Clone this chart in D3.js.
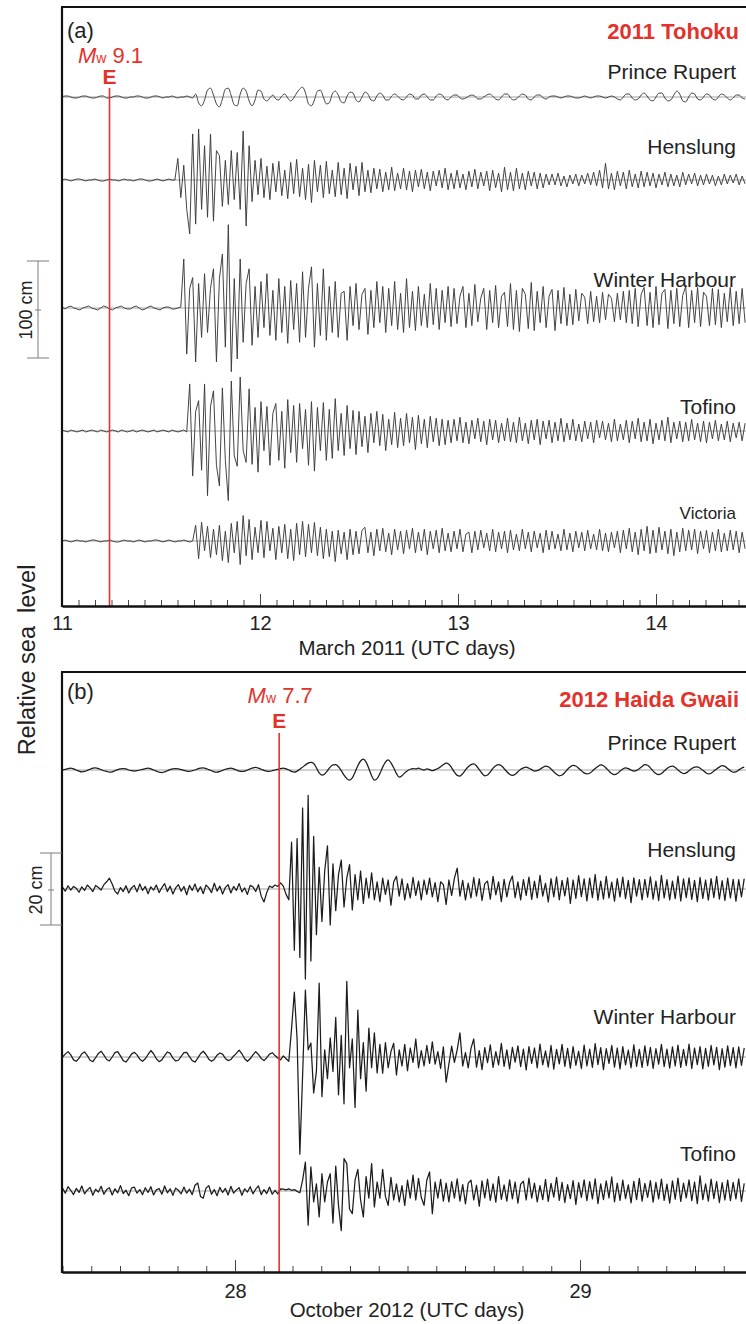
<!DOCTYPE html>
<html><head><meta charset="utf-8">
<script src="https://cdn.jsdelivr.net/npm/d3@7"></script>
<style>
body{margin:0;background:#fff}
svg{display:block}
text{font-family:"Liberation Sans",Arial,Helvetica,sans-serif}
</style>
</head><body>
<svg id="c" width="746" height="1324"></svg>
<script>
// ---------------- DATA ----------------
const stationsA = ["Prince Rupert", "Henslung", "Winter Harbour", "Tofino", "Victoria"];
const stationsB = ["Prince Rupert", "Henslung", "Winter Harbour", "Tofino"];
const startA = 11.0, stepA = 0.015;   // March 2011, UTC days
const startB = 27.5, stepB = 0.008;   // October 2012, UTC days
const eventA = 11.24, eventB = 28.128;
const ticksA = [11, 12, 13, 14];
const ticksB = [28, 29];
const magA = "9.1", magB = "7.7";
const scaleA = 100, scaleB = 20; // cm scale bars

// relative sea level (cm), panel a
const prA = [0,1,1,0,-1,-1,0,1,1,0,-1,-1,0,1,1,-1,-1,0,1,1,0,-1,-1,0,0,1,1,0,-1,-1,0,1,1,0,-1,0,0,1,0,-1,0,0,1,0,-1,
3,-6,-9,-3,7,9,2,-7,-10,-2,8,9,1,-8,-9,3,9,6,-4,-9,-3,7,6,-2,-4,-1,2,-2,-3,1,3,-1,-4,-1,4,8,10,4,-7,-9,-3,6,7,0,-7,-6,3,6,2,-5,-6,1,5,4,-3,-5,0,5,3,-3,-4,1,4,2,-3,-3,1,3,1,-2,-3,0,3,2,-2,-2,
2,3,0,-3,-3,1,3,2,-2,-3,0,2,2,-1,-2,-1,1,2,1,-2,-2,0,2,3,1,-2,
-3,0,3,3,-1,-3,-2,1,3,2,-2,-3,0,2,2,-1,-2,0,1,1,
0,-1,0,1,1,0,-1,-1,0,1,0,-1,0,1,1,0,-1,0,1,0,
-2,-3,0,3,3,-1,-3,-2,2,4,1,-3,-4,0,4,4,-1,-4,-3,2,6,3,-4,-5,0,4,3,-2,-3,
0,3,2,-2,-3,0,3,2,-1,-3,-1,2,2,-1,-2];
const heA = [0,1,0,-1,0,1,1,0,-1,0,0,1,0,-1,-1,0,1,0,0,-1,0,1,0,0,-1,0,1,1,0,-1,-1,0,1,0,-1,0,1,0,0,
22,-18,15,-30,-55,47,-45,52,-30,35,-38,47,-42,30,25,-27,20,-25,30,-20,28,-30,50,-47,35,
-22,20,-15,22,-18,14,-20,17,-12,19,-16,10,-19,18,-14,21,-17,12,-20,16,-23,20,-12,15,-18,19,-14,10,-17,18,-15,12,-19,17,-10,14,-16,18,-12,10,
-13,12,-9,11,-12,8,-10,13,-11,7,-9,12,-10,9,-12,10,-7,11,-9,8,-11,9,-6,10,-8,12,-10,7,
-9,10,-8,6,-10,9,-7,11,-9,8,-6,9,-11,10,-8,7,
-12,13,-10,8,-11,12,-9,7,-10,9,-6,8,-9,7,-8,6,-5,
6,-5,7,-6,4,-7,5,-4,6,-6,5,-4,7,-5,8,-6,
10,-8,17,-9,7,-10,9,-6,8,-9,10,-7,6,-8,9,-7,8,-6,
7,-8,6,-5,8,-7,6,-6,5,-7,8,-5,6,-4,7,-6,5,
-5,6,-4,5,-6,4,-5,6,-4,5,-3,6,-5,4,-4];
const whA = [1,-1,1,2,0,-1,-2,0,1,2,0,-1,-2,0,2,1,-1,-2,0,1,2,0,-1,-1,1,2,0,-2,-1,1,2,0,-1,-2,0,1,1,-1,-1,0,1,
50,-47,20,31,-55,25,-30,35,-25,20,40,-55,30,55,-40,85,-65,30,-52,50,-35,25,40,
-38,22,-30,27,-20,35,-28,18,-33,30,-25,22,-36,28,-22,25,-35,37,-30,20,42,-40,25,-28,40,-33,22,
-25,27,-30,15,17,-33,22,-18,25,-22,14,20,-27,18,-20,27,-15,22,-25,20,-18,27,-22,15,-25,30,-20,17,-23,22,-18,14,-20,25,-17,20,-22,18,-15,22,-19,
20,-16,12,22,-20,15,-18,24,-14,10,20,-22,18,-15,23,-20,12,16,-19,
25,-22,18,-24,20,14,-21,26,-23,17,-15,22,-20,12,19,-23,18,-16,21,-18,
14,-17,19,-13,15,11,-16,17,-14,12,-15,16,-12,14,10,-14,15,-12,17,-15,
18,-16,20,-19,14,21,-18,16,-20,22,-17,15,19,-21,18,-16,20,-19,13,22,
-20,18,-15,21,-19,16,12,-18,20,-17,19,-20,15,-14,21,-18,17,-16,20,-15];
const toA = [1,0,-1,1,0,-1,0,1,-1,0,1,0,-1,1,0,-1,0,1,0,-1,1,0,-1,0,1,-1,0,1,0,-1,0,1,-1,0,1,0,-1,1,0,-1,0,1,-1,
48,-46,20,31,-40,48,-66,25,41,-35,-56,44,-30,-71,51,-25,-36,55,-20,-32,43,-34,24,-42,
30,-20,25,-35,18,28,-30,20,-38,32,-22,26,-32,28,-18,22,-35,30,-41,24,-20,29,-30,22,-28,33,-20,18,-25,26,-18,21,-24,
20,-16,15,-22,18,-12,20,-15,17,-20,12,-14,19,-17,13,-15,18,-12,14,-19,16,-13,12,-17,15,-11,13,-15,12,-14,11,-12,
12,-10,14,-12,9,-13,11,-8,13,-11,10,-14,12,-9,11,-12,8,-10,13,
-11,9,-12,14,-10,8,-13,11,-9,12,-14,10,-8,11,-12,9,-10,13,-11,8,
-9,12,-10,7,-11,10,-8,9,-12,11,-7,10,-9,8,-11,12,-10,7,-9,11,
-12,10,-8,13,-11,9,-10,12,-13,8,-9,11,-10,14,-12,9,-8,10,-11,9,
-10,12,-9,8,-11,10,-12,9,-8,11,-10,7,-9,10,-11,8,-7,9,-10,8];
const viA = [0,1,0,-1,0,1,0,0,-1,0,1,1,0,-1,0,0,1,0,-1,-1,0,1,0,0,-1,0,1,0,-1,0,0,1,1,0,-1,0,1,0,-1,0,0,1,0,-1,0,
16,-18,19,-10,15,-17,12,-14,16,-20,10,-22,18,-12,20,-24,26,-15,22,-19,14,-12,21,-17,20,-10,13,-19,15,-12,17,-18,12,-20,
18,-14,20,-16,17,-12,19,-15,14,-18,12,-16,10,-21,11,-13,9,-19,
12,-14,10,-13,11,14,-12,9,-15,12,-10,13,-11,8,-14,12,-9,10,-13,11,-8,13,-12,9,-10,12,-14,10,-8,11,-12,13,-10,8,-11,
10,-8,12,-11,7,9,-12,10,-9,11,-7,8,-10,12,-11,9,-8,10,-12,
11,-9,7,-10,12,-8,9,-11,10,-7,8,-12,11,-9,10,-8,7,-10,12,-9,
8,-11,10,-7,9,-10,11,-8,7,-9,12,-10,8,-11,9,-7,10,-12,11,-8,
13,-11,9,-14,12,-10,15,-13,11,-12,14,-9,10,-13,12,-15,9,-11,13,-10,
11,-9,12,-13,10,-8,11,-12,9,-10,12,-11,8,-10,11,-9,10,-12,9,-8];

// relative sea level (cm), panel b
const prB = [0,0.2,0.4,0.5,0.3,0,-0.3,-0.5,-0.4,-0.1,0.2,0.5,0.6,0.4,0.1,-0.2,-0.4,-0.6,-0.5,-0.2,0.1,0.3,0.4,0.3,0,-0.2,-0.3,-0.2,0,0.2,0.4,0.5,0.3,0,-0.3,-0.6,-0.7,-0.5,-0.2,0.1,0.3,0.4,0.3,0.1,-0.1,-0.3,-0.4,-0.2,0,0.3,0.5,0.6,0.4,0.1,-0.2,-0.5,-0.6,-0.4,-0.1,0.2,0.4,0.5,0.3,0,-0.3,-0.4,-0.3,0,0.3,0.6,0.7,0.5,0.2,-0.1,-0.3,-0.4,-0.2,0,0.2,0.4,0.5,
0.3,0,-0.4,-0.6,-0.3,0.2,0.8,1.4,1.9,2.1,1.8,0.6,-0.8,-1.4,-1.1,-0.2,0.8,1.4,1.5,0.9,-0.2,-1.4,-2.4,-2.8,-2.2,-0.6,1.2,2.5,3.0,2.2,0.4,-1.6,-2.8,-2.4,-1.0,0.8,2.2,2.8,2.0,0.6,-1.0,-2.0,-1.6,-0.8,-0.2,
0.2,0.4,0.3,0.5,0.2,0,0.3,0.1,-0.2,0.1,0.4,0.9,1.5,1.9,1.6,0.6,-0.6,-1.5,-1.7,-1.0,0,0.9,1.5,1.7,1.1,0.1,-0.9,-1.6,-1.4,-0.5,0.5,1.2,1.5,1.2,0.4,
-0.5,-1.2,-1.5,-1.2,-0.5,0.2,0.6,0.8,0.5,0.1,-0.3,-0.2,0.2,0.7,1.1,0.9,0.3,-0.5,-1.2,-1.6,-1.4,-0.7,0.2,0.9,1.3,1.1,0.5,-0.2,-0.8,-1.1,-0.9,-0.3,0.4,1.0,1.4,1.2,0.5,-0.3,-1.0,-1.3,-1.0,-0.3,0.3,0.6,0.4,0,-0.3,-0.1,0.4,1.0,1.5,1.3,0.6,-0.3,-1.0,-1.3,-1.0,-0.3,0.4,0.9,1.1,0.7,0,-0.6,-1.0,-0.8,-0.2,0.4,0.8,0.9,0.5,-0.1,-0.7,-1.1,-0.9,-0.3,0.3,0.8,1.2,1.0,0.4,-0.2,-0.6,-0.5,0,0.5,0.8];
const heB = [0.5,-0.6,0.9,-0.3,0.7,0.2,-0.9,0.6,-0.4,1.1,0.3,-0.7,1.0,0.4,-0.3,1.2,2.0,3.0,1.4,-0.6,-1.4,0.4,-0.7,0.9,-1.1,0.3,1.0,-0.8,1.4,-0.4,0.7,-1.3,0.6,-0.3,1.1,-1.0,0.4,1.5,-0.7,0.8,-1.4,0.3,1.2,-0.6,0.7,-1.6,1.0,-0.4,1.4,-0.8,0.6,-1.3,1.1,0.3,-1.0,1.6,-0.6,0.8,-1.4,0.4,1.2,-1.1,0.7,-0.4,1.5,-0.8,0.3,-1.5,1.0,0.6,-0.7,1.2,-2.0,-3.6,-1.0,0.8,0.4,1.1,0.7,
1.7,0.8,-1.5,-3.0,13,-17,14,-19,22.5,-25,26,-20,14.6,-12.7,6,-9,5,12,-10,7,-6,4,8,-5,3,6.8,-5.8,4,-3,5,
-4,3,-2.5,4.5,-3,2,-3.5,3,-1.5,2.5,-4.5,2,3.5,-2,2.8,-3,1.5,-2.5,3.2,-1.8,2.2,-3,
2.5,-1.5,3,-2.2,1.8,-3.5,2,1.2,-4.3,2.5,-1.8,3,5.8,-2,2.4,-3,1.6,-2.5,3.2,-2,
2.8,-3.2,1.5,2.2,-2.8,3.5,-1.6,2,-3.5,2.7,-2.2,1.8,3.6,-2.4,2,-3,2.6,-1.8,3.3,-2.9,
2.2,-2.5,3.8,-2,1.6,-3.6,2.9,-2.2,3.4,-3,2.4,-1.9,3.1,-4,2.5,-2.6,3.7,-2.1,2.8,-3.3,
3,-2.4,4,-3.1,2.2,-2.8,3.5,-2.5,1.9,-3.4,2.9,-2.2,3.3,-2.7,2.4,-3.8,3.1,-2,2.6,-3,
2.7,-2.3,3.4,-2.8,2.2,-3.2,3.8,-2.5,2.6,-3,2.2,-2.7,3.6,-3.3,2.8,-2.4,3.1,-2.9,2.4,-3.5,
3.2,-2.6,2.5,-3.1,2.9,-2.4,3.5,-2.8,2.3,-3.2,3,-2.5,2.7,-3.4,2.6,-2.2,2.9];
const whB = [0,0.8,1.5,0.6,-0.8,-1.2,-0.3,0.9,1.4,0.4,-0.9,-1.3,-0.2,1.0,1.6,0.5,-0.7,-1.1,0,1.2,1.5,0.3,-1.0,-1.4,-0.4,0.8,1.3,0.6,-0.6,-1.2,-0.5,0.7,1.8,0.9,-0.5,-1.3,-0.8,0.4,1.4,1.0,-0.3,-1.1,-0.9,0.2,1.2,1.3,0.1,-1.0,-1.4,-0.3,0.9,1.6,0.7,-0.6,-1.2,-0.6,0.5,1.1,0.8,-0.4,-1.0,-0.7,0.3,1.0,1.9,0.9,-0.5,-1.2,-0.5,0.6,1.5,0.7,-0.4,-1.0,-0.2,0.8,1.2,0.4,-0.3,-0.8,0.3,
-0.5,-1.2,8,18,5,-27,-5,18.6,2,3.9,-10,-4,20.5,-11,2,-6,5.3,-4,11,-10.5,6,-13,21,-3,5,-14,13,-6,4,-9.5,8,-3,6.7,-4.4,
3.5,-4.5,4,-3,1.5,3.8,-5,2,-2.5,3.5,-3.8,2.5,-1.5,5,-3,1.8,
-2.5,3.2,-1.8,4.2,-2,1.5,-3.2,2.8,-7,-2,3,-1.5,2,6.7,-2.5,1.2,-3,2.4,5,-2.8,
1.8,-3.5,2.6,-1.6,3.4,-2.9,1.5,-2.2,3.8,-2.6,2,-3.3,2.7,-1.4,3.1,-2.7,2.2,-3.6,2.9,-1.8,
2.5,-3,3.6,-2.2,1.7,-2.8,3.2,-3.4,2.1,-1.9,3.5,-2.6,2.4,-3.1,2.9,-2.3,1.6,-3.2,3.3,-2.5,
2.2,-2.9,3.7,-2.1,2.6,-3.5,2.3,-1.8,3.2,-2.8,2.5,-3.3,2.9,-2.2,1.9,-3,3.4,-2.6,2.1,-2.9,
3.1,-2.4,2.7,-3.2,2.3,-2,3.5,-2.7,2.2,-3.1,2.8,-2.5,3.3,-2.9,2.1,-2.4,3.6,-3.2,2.5,-2.1,
2.9,-3.3,2.4,-2.6,3.2,-2.2,2.7,-3.5,2.3,-2.8,3.1,-2.4,2.6,-3,2.8,-2.3,2.5];
const toB = [0.8,-0.6,1.2,0.2,-1.0,0.7,-0.4,1.4,-0.8,0.3,1.0,-1.2,0.5,-0.3,1.3,-0.9,0.4,0.9,-1.1,0.6,-0.5,1.5,-0.7,0.2,-1.3,0.8,1.1,-0.6,0.4,-1.0,0.9,-0.4,1.2,-1.1,0.3,0.7,-0.9,1.4,-0.5,0.6,-1.2,0.8,0.2,-0.8,1.1,-0.6,0.5,-1.0,1.6,2.2,-1.5,-2.0,0.8,1.5,-0.9,0.4,-1.3,1.0,-0.4,0.7,-1.1,1.3,-0.6,0.3,0.9,-1.2,0.6,-0.3,1.2,-0.8,0.5,1.4,-1.0,0.4,-0.7,1.1,-0.9,0.2,-0.8,0.6,0.5,0.3,0.6,0.2,0.4,-0.1,-0.5,
3,8,-9.5,6.7,-3,2,-7.2,4.8,-3,2.5,4.8,-8.9,6.9,-4,-11,9,7.6,-5,-6.3,3,6,-2.5,-7.2,4,-2,7.6,-4.4,2.5,-2,6,-1.5,-4,3.8,-2.5,2,-3,1.5,-4,3,-2,4.4,-2.5,3.5,-1.8,-4,3,5.3,-6.3,2.5,-2,3.2,-2.8,2.2,-3,
2.6,-2,3.4,-2.8,1.8,-3.6,2.2,3,-2.5,1.6,-4.2,2.8,-1.9,3.3,-2.6,2,-3.1,4,-2.3,1.7,
-2.8,3.1,-2.2,2.5,-3.4,1.9,2.7,-2.5,3.6,-2,2.2,-3,1.5,-2.4,3.2,-2.9,2.1,-1.7,3.8,-2.6,
2.4,-3.2,1.8,-2.1,2.9,-3.7,2.3,-1.8,3.1,-2.7,2.6,-2.2,3.4,-3.5,2,-2.4,2.8,-1.9,3.9,-3,
2.2,-2.6,3,-2.1,1.7,-3.3,2.7,-2.4,3.5,-2.8,2.1,-1.8,2.9,-3.1,2.4,-2.2,3.3,-2.6,1.9,-3.4,
2.8,-2.3,3.6,-2.9,2.2,-1.9,3.1,-2.7,2.5,-3.5,4.2,-2.4,2,-2.8,3.3,-2.1,2.6,-3.2,2.3,-2.5,
3,-2.7,2.4,-2.2,3.4,-2.9,2.1];

const seriesA = [prA, heA, whA, toA, viA];
const seriesB = [prB, heB, whB, toB];

// ---------------- LAYOUT ----------------
const W = 746;
const RED = "#e4322b";
const svg = d3.select("#c");

const xA = d3.scaleLinear().domain([11, 14]).range([62, 656]);
const xB = d3.scaleLinear().domain([28, 29]).range([235, 580]);
const ampA = d3.scaleLinear().domain([-50, 50]).range([49, -49]);
const ampB = d3.scaleLinear().domain([-10, 10]).range([36, -36]);

const panels = [
  { id: "a", x: xA, amp: ampA, t0: startA, dt: stepA, series: seriesA, names: stationsA,
    top: 7, axisY: 606, base: [97, 180, 308, 431, 541],
    labelY: [79, 154, 287, 414, 519], labelSize: [21, 21, 21, 21, 17],
    event: eventA, eTop: 88, mag: magA, magY: 63, eY: 84, letter: "(a)", letterY: 38,
    title: "2011 Tohoku", titleY: 39, ticks: ticksA, tickLabelY: 630,
    xTitle: "March 2011 (UTC days)", xTitleY: 655, xTitleX: 407,
    color: "#3a3a3a", sw: 0.95,
    bar: { x: 38, y0: 261, y1: 358, yc: 310, label: scaleA + " cm", tx: 32 } },
  { id: "b", x: xB, amp: ampB, t0: startB, dt: stepB, series: seriesB, names: stationsB,
    top: 672, axisY: 1272, base: [770, 889, 1057, 1191],
    labelY: [750, 857, 1024, 1161], labelSize: [21, 21, 21, 21],
    event: eventB, eTop: 733, mag: magB, magY: 703, eY: 728, letter: "(b)", letterY: 699,
    title: "2012 Haida Gwaii", titleY: 707, ticks: ticksB, tickLabelY: 1298,
    xTitle: "October 2012 (UTC days)", xTitleX: 407, xTitleY: 1317,
    color: "#1c1c1c", sw: 1.25,
    bar: { x: 51, y0: 853, y1: 925, yc: 890, label: scaleB + " cm", tx: 42 } }
];

panels.forEach(p => {
  const g = svg.append("g");
  const xr = p.x.copy().domain([p.x.invert(62), p.x.invert(W)]).range([62, W]);

  const clipId = "clip-" + p.id;
  svg.append("defs").append("clipPath").attr("id", clipId)
    .append("rect").attr("x", 63).attr("y", p.top + 1).attr("width", W - 63).attr("height", p.axisY - p.top - 2);
  const plot = g.append("g").attr("clip-path", `url(#${clipId})`);

  p.series.forEach((s, k) => {
    const b = p.base[k];
    plot.append("line").attr("x1", 62).attr("x2", W).attr("y1", b).attr("y2", b)
      .attr("stroke", "#8c8c8c").attr("stroke-width", 0.8);
    const line = d3.line()
      .x((d, i) => xr(p.t0 + i * p.dt))
      .y(d => b + p.amp(d))
      .curve(k === 0 ? d3.curveMonotoneX : d3.curveLinear);
    plot.append("path").attr("d", line(s)).attr("fill", "none")
      .attr("stroke", p.color).attr("stroke-width", p.sw).attr("stroke-linejoin", "round");
  });

  // event line
  const ex = xr(p.event);
  g.append("line").attr("x1", ex).attr("x2", ex).attr("y1", p.eTop).attr("y2", p.axisY)
    .attr("stroke", RED).attr("stroke-width", 1.6);

  // minor ticks (2 h)
  const minor = d3.range(Math.ceil(xr.domain()[0] * 12 - 1e-6), Math.floor(xr.domain()[1] * 12) + 1).map(v => v / 12);
  g.append("g").attr("transform", `translate(0,${p.axisY})`)
    .call(d3.axisBottom(xr).tickValues(minor).tickSize(-6).tickSizeOuter(0).tickFormat(""))
    .call(a => a.select(".domain").remove())
    .call(a => a.selectAll("line").attr("stroke", "#444").attr("stroke-width", 1));
  // major ticks
  const ax = g.append("g").attr("transform", `translate(0,${p.axisY})`)
    .call(d3.axisBottom(xr).tickValues(p.ticks).tickSize(-12).tickSizeOuter(0).tickPadding(0).tickFormat(d3.format("d")));
  ax.select(".domain").attr("stroke", "#111").attr("stroke-width", 2.6);
  ax.selectAll(".tick line").attr("stroke", "#444").attr("stroke-width", 1);
  ax.selectAll(".tick text").attr("y", p.tickLabelY - p.axisY).attr("dy", 0)
    .attr("font-size", 20).attr("fill", "#222")
    .attr("font-family", '"Liberation Sans", Arial, sans-serif');

  // frame
  g.append("line").attr("x1", 61).attr("x2", W).attr("y1", p.top).attr("y2", p.top)
    .attr("stroke", "#111").attr("stroke-width", 2.2);
  g.append("line").attr("x1", 62).attr("x2", 62).attr("y1", p.top).attr("y2", p.axisY + 1)
    .attr("stroke", "#111").attr("stroke-width", 2.2);

  // labels
  g.append("text").attr("x", 67).attr("y", p.letterY).attr("font-size", 22).attr("fill", "#222").text(p.letter);
  g.append("text").attr("x", 739).attr("y", p.titleY).attr("text-anchor", "end")
    .attr("font-size", 22).attr("font-weight", "bold").attr("fill", RED).text(p.title);
  const mt = g.append("text").attr("x", ex + 1).attr("y", p.magY).attr("text-anchor", "middle").attr("fill", RED).attr("font-size", 22);
  mt.append("tspan").attr("font-style", "italic").text("M");
  mt.append("tspan").attr("font-size", 14).text("w");
  mt.append("tspan").text(" " + p.mag);
  g.append("text").attr("x", ex).attr("y", p.eY).attr("text-anchor", "middle").attr("fill", RED)
    .attr("font-size", 21).attr("font-weight", "bold").text("E");

  p.names.forEach((n, k) => {
    g.append("text").attr("x", 736).attr("y", p.labelY[k]).attr("text-anchor", "end")
      .attr("font-size", p.labelSize[k]).attr("fill", "#222").text(n);
  });

  g.append("text").attr("x", p.xTitleX).attr("y", p.xTitleY).attr("text-anchor", "middle")
    .attr("font-size", 20.5).attr("fill", "#222").text(p.xTitle);

  // scale bar
  const sb = p.bar, sg = g.append("g").attr("stroke", "#7d7d7d").attr("stroke-width", 1);
  sg.append("line").attr("x1", sb.x).attr("x2", sb.x).attr("y1", sb.y0).attr("y2", sb.y1);
  sg.append("line").attr("x1", sb.x - 11).attr("x2", sb.x + 11).attr("y1", sb.y0).attr("y2", sb.y0);
  sg.append("line").attr("x1", sb.x - 11).attr("x2", sb.x + 11).attr("y1", sb.y1).attr("y2", sb.y1);
  sg.append("line").attr("x1", sb.x - 3).attr("x2", sb.x + 3).attr("y1", sb.yc).attr("y2", sb.yc);
  g.append("text").attr("transform", `translate(${sb.tx},${sb.yc}) rotate(-90)`)
    .attr("text-anchor", "middle").attr("font-size", 18).attr("fill", "#222").text(sb.label);
});

// shared y label
svg.append("text").attr("transform", "translate(35,660) rotate(-90)")
  .attr("text-anchor", "middle").attr("font-size", 23.5).attr("fill", "#222")
  .attr("xml:space", "preserve").text("Relative sea  level");
</script>
</body></html>
